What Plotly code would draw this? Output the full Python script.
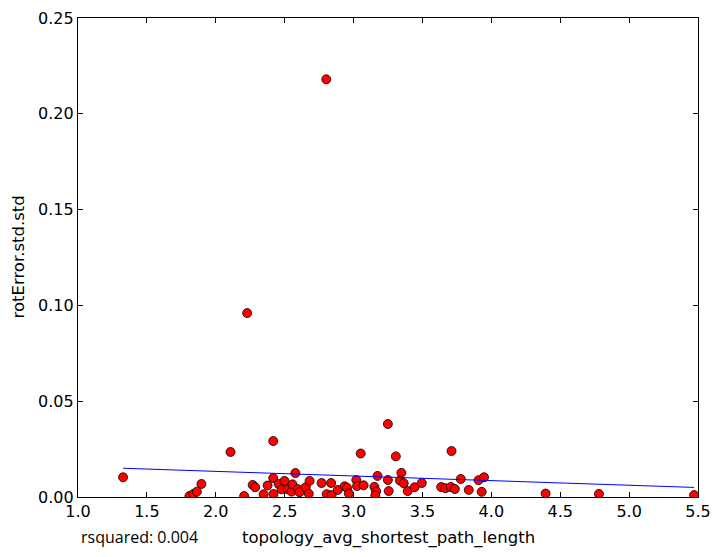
"""Scatter of rotError.std.std vs topology_avg_shortest_path_length with linear fit."""
import plotly.graph_objects as go

# values
path_length = [
    1.327, 1.809, 1.838, 1.863, 1.896, 2.107, 2.206, 2.228, 2.268, 2.286,
    2.347, 2.376, 2.417, 2.417, 2.419, 2.456, 2.478, 2.499, 2.522, 2.550,
    2.557, 2.578, 2.597, 2.608, 2.653, 2.675, 2.681, 2.768, 2.805, 2.802,
    2.837, 2.841, 2.886, 2.935, 2.953, 2.966, 3.020, 3.025, 3.052, 3.073,
    3.151, 3.164, 3.158, 3.174, 3.249, 3.249, 3.255, 3.307, 3.347, 3.337,
    3.364, 3.393, 3.443, 3.495, 3.636, 3.667, 3.706, 3.711, 3.735, 3.778,
    3.836, 3.907, 3.947, 3.930, 4.394, 4.781, 5.472,
]
rot_error_std = [
    0.0103, 0.0005, 0.0016, 0.0028, 0.0068, 0.0235, 0.0005, 0.0960, 0.0063, 0.0051,
    0.0014, 0.0060, 0.0099, 0.0292, 0.0016, 0.0068, 0.0040, 0.0084, 0.0040, 0.0028,
    0.0066, 0.0125, 0.0041, 0.0025, 0.0051, 0.0017, 0.0084, 0.0073, 0.0015, 0.2180,
    0.0073, 0.0010, 0.0037, 0.0056, 0.0048, 0.0018, 0.0089, 0.0057, 0.0227, 0.0061,
    0.0053, 0.0030, 0.0008, 0.0110, 0.0381, 0.0089, 0.0031, 0.0212, 0.0126, 0.0086,
    0.0072, 0.0031, 0.0051, 0.0073, 0.0052, 0.0046, 0.0052, 0.0240, 0.0042, 0.0094,
    0.0037, 0.0088, 0.0103, 0.0027, 0.0018, 0.0016, 0.0010,
]
# fitted line end points as drawn in the reference
fit_x = [1.327, 5.472]
fit_y = [0.0150, 0.0050]

x_ticks = [1.0, 1.5, 2.0, 2.5, 3.0, 3.5, 4.0, 4.5, 5.0, 5.5]
y_ticks = [0.00, 0.05, 0.10, 0.15, 0.20, 0.25]

FONT = "DejaVu Sans"

fig = go.Figure()
fig.add_trace(go.Scatter(
    x=path_length, y=rot_error_std, mode="markers",
    marker=dict(color="#ff0000", size=9, line=dict(color="#000000", width=0.8)),
    showlegend=False,
))
fig.add_trace(go.Scatter(
    x=fit_x, y=fit_y, mode="lines",
    line=dict(color="#0000ff", width=1),
    showlegend=False,
))

axis_common = dict(
    showgrid=False, zeroline=False, automargin=False,
    showline=True, linecolor="#000000", linewidth=1.3,
    mirror="ticks", ticks="inside", ticklen=5, tickwidth=1, tickcolor="#000000",
    tickfont=dict(family=FONT, size=16, color="#000000"),
)
fig.update_xaxes(range=[1.0, 5.5], tickvals=x_ticks,
                 ticktext=[f"{v:.1f}" for v in x_ticks], **axis_common)
fig.update_yaxes(range=[0.0, 0.25], tickvals=y_ticks,
                 ticktext=[f"{v:.2f}" for v in y_ticks], **axis_common)

fig.add_annotation(text="topology_avg_shortest_path_length", xref="paper", yref="paper",
                   x=0.5, y=0, yshift=-41, showarrow=False, yanchor="middle",
                   font=dict(family=FONT, size=16.5, color="#000000"))
fig.add_annotation(text="rotError.std.std", xref="paper", yref="paper",
                   x=0, y=0.5, xshift=-60, textangle=-90, showarrow=False,
                   xanchor="center", font=dict(family=FONT, size=16.5, color="#000000"))
fig.add_annotation(text="rsquared: 0.004", xref="paper", yref="paper",
                   x=0, y=0, xshift=1, yshift=-40, xanchor="left", yanchor="middle",
                   showarrow=False, font=dict(family="Open Sans", size=16, color="#000000"))

# the page body adds an 8px margin, so the figure is 8px smaller and margins shrink by it
fig.update_layout(
    template="none",
    width=712, height=549,
    paper_bgcolor="#ffffff", plot_bgcolor="#ffffff",
    margin=dict(l=70, r=22, t=10, b=60, autoexpand=False),
    font=dict(family=FONT, color="#000000"),
)

fig.write_html("out.html")
